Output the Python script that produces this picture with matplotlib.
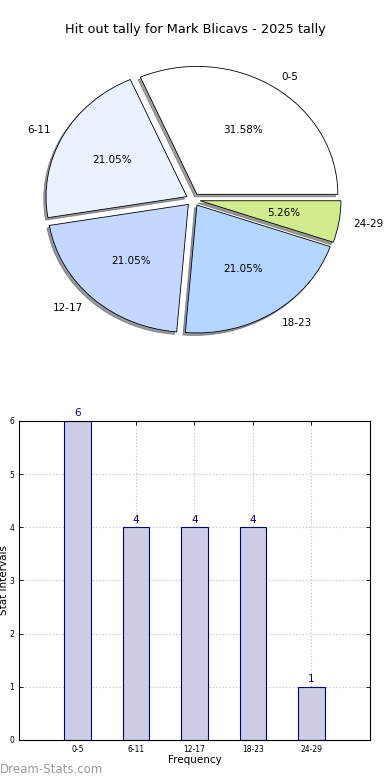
import matplotlib
matplotlib.use("Agg")
import matplotlib.pyplot as plt

# data
intervals = ["0-5", "6-11", "12-17", "18-23", "24-29"]
counts = [6, 4, 4, 4, 1]
pie_colors = ["#ffffff", "#ebf1ff", "#c4d7ff", "#b4d5ff", "#d0ec8c"]
title = "Hit out tally for Mark Blicavs - 2025 tally"

fig = plt.figure(figsize=(3.9, 7.8), dpi=100)
fig.text(0.5, 0.962, title, ha="center", va="center", fontsize=9.3)

# pie (stretched like the original, not circular)
ax1 = fig.add_axes([0.0436, 0.539, 0.903, 0.410])
wedges, texts, autotexts = ax1.pie(counts, labels=intervals, colors=pie_colors,
                                   explode=[0.05] * len(counts),
                                   shadow={"ox": -0.012, "oy": -0.014, "shade": 0.75},
                                   autopct="%1.2f%%", startangle=0,
                                   wedgeprops={"edgecolor": "black", "linewidth": 0.6},
                                   textprops={"fontsize": 7.5})
ax1.set_aspect("auto")
ax1.set_xlim(-1.25, 1.25)
ax1.set_ylim(-1.25, 1.25)

# bars
ax2 = fig.add_axes([0.0487, 0.0513, 0.9, 0.409])
pos = list(range(len(intervals)))
bars = ax2.bar(pos, counts, width=0.45, color="#ccccE5", edgecolor="#000080",
               linewidth=0.8, zorder=2)
for p, c in zip(pos, counts):
    ax2.text(p, c + 0.05, str(c), ha="center", va="bottom", fontsize=7.5, color="#000080")
ax2.set_xlim(-1, 5)
ax2.set_ylim(0, 6)
ax2.set_xticks(pos)
ax2.set_xticklabels(intervals)
ax2.set_yticks(range(0, 7))
ax2.tick_params(direction="in", top=True, right=True, labelsize=5.5, length=3, width=0.6)
ax2.grid(True, linestyle=(0, (1, 2)), color="#bbbbbb", linewidth=0.8, zorder=0)
ax2.set_xlabel("Frequency", fontsize=7.5, labelpad=1)
ax2.set_ylabel("Stat Intervals", fontsize=7.5, labelpad=0)
for s in ax2.spines.values():
    s.set_linewidth(0.8)

fig.text(0.0, 0.013, "Dream-Stats.com", fontsize=8.5, color="#999999", ha="left", va="center")

fig.savefig("out.png", dpi=100)
